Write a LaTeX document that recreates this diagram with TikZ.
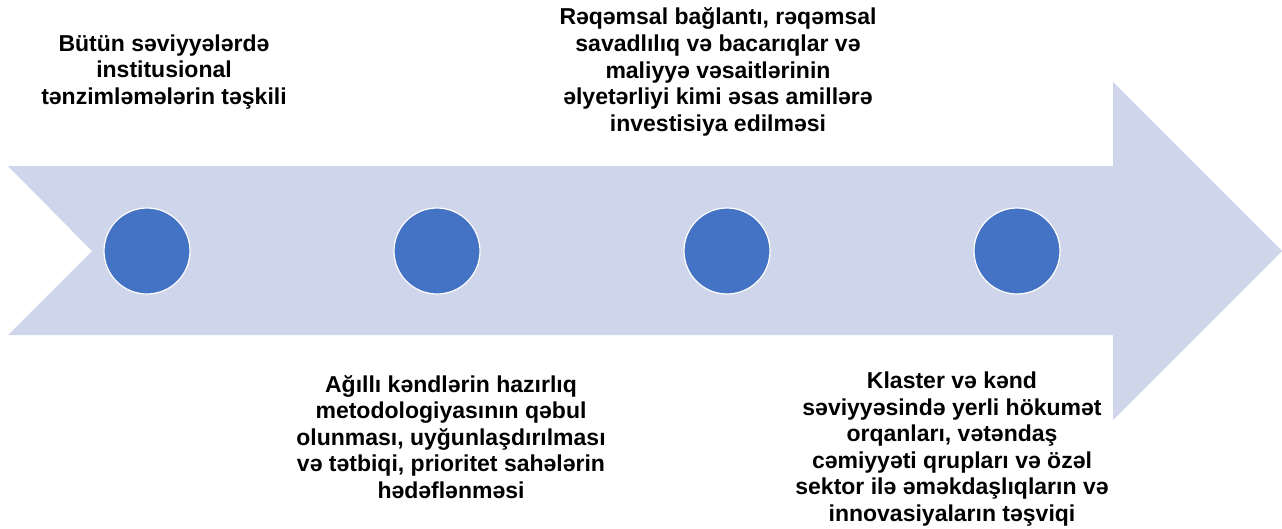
\documentclass[tikz,border=0pt]{standalone}
\usepackage{fontspec}
\setmainfont{Liberation Sans}
\definecolor{arrowfill}{HTML}{CFD5EA}
\definecolor{dotblue}{HTML}{4472C4}
\tikzset{
  milestone/.style={circle, fill=dotblue, draw=white, line width=1.2pt, minimum size=86pt, inner sep=0pt},
  steptext/.style={align=center, inner sep=0pt, font=\fontsize{23}{26.6}\selectfont\bfseries}
}
\begin{document}
\begin{tikzpicture}[x=1pt,y=-1pt]
\useasboundingbox (0,0) rectangle (1282,528);
% big arrow
\fill[arrowfill] (8,166) -- (1113,166) -- (1113,82) -- (1282,251) -- (1113,420) -- (1113,335) -- (8,335) -- (92,251) -- cycle;
% milestones
\node[milestone] (m1) at (147,251) {};
\node[milestone] (m2) at (437,251) {};
\node[milestone] (m3) at (727,251) {};
\node[milestone] (m4) at (1017,251) {};
% texts
\node[steptext] (t1) at (164,72) {Bütün səviyyələrdə\\institusional\\tənzimləmələrin təşkili};
\node[steptext] (t2) at (718,72) {Rəqəmsal bağlantı, rəqəmsal\\savadlılıq və bacarıqlar və\\maliyyə vəsaitlərinin\\əlyetərliyi kimi əsas amillərə\\investisiya edilməsi};
\node[steptext] (t3) at (451,437) {Ağıllı kəndlərin hazırlıq\\metodologiyasının qəbul\\olunması, uyğunlaşdırılması\\və tətbiqi, prioritet sahələrin\\hədəflənməsi};
\node[steptext] (t4) at (952,449) {Klaster və kənd\\səviyyəsində yerli hökumət\\orqanları, vətəndaş\\cəmiyyəti qrupları və özəl\\sektor ilə əməkdaşlıqların və\\innovasiyaların təşviqi};
\end{tikzpicture}
\end{document}
